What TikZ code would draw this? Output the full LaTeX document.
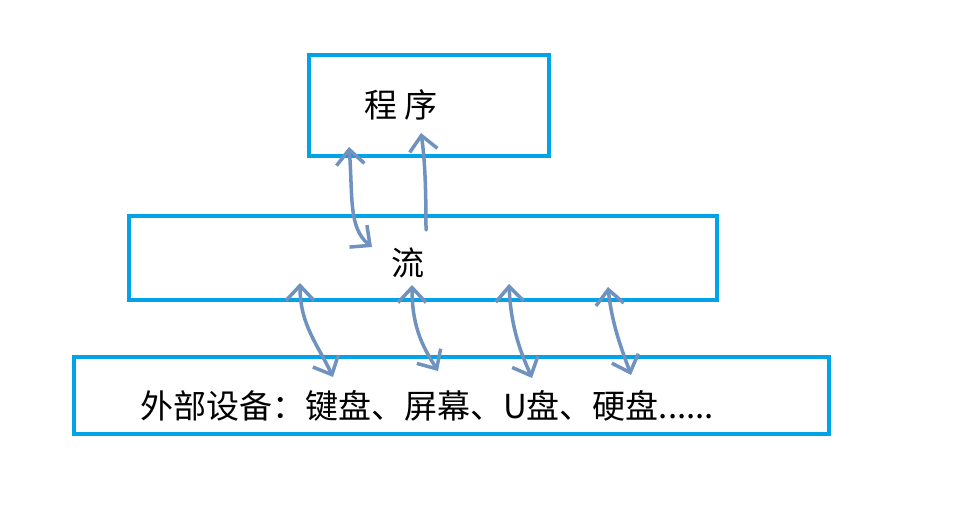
\documentclass[tikz,border=0pt]{standalone}
\usepackage{fontspec}
\setmainfont{Noto Sans CJK SC}
\usetikzlibrary{arrows.meta}
\definecolor{boxblue}{HTML}{00A2E8}
\definecolor{arrblue}{HTML}{7092BE}
\begin{document}
\begin{tikzpicture}[x=1pt,y=-1pt,
  box/.style={draw=boxblue,line width=4pt,inner sep=0pt},
  lbl/.style={inner sep=0pt,font=\fontsize{33}{40}\selectfont},
  hand/.style={draw=arrblue,line width=3.5pt,line cap=round,line join=round},
  handtip/.tip={Straight Barb[length=15pt,width=28pt,line width=3.5pt]}]
\useasboundingbox[fill=white] (0,0) rectangle (975,521);
\node[box,minimum width=240pt,minimum height=101pt] (prog) at (429,105.5) {};
\node[box,minimum width=588pt,minimum height=84pt] (flow) at (423,258) {};
\node[box,minimum width=755pt,minimum height=77pt] (dev) at (451.5,395.5) {};
\node[lbl] (progt) at (401,105) {程\hspace{8pt}序};
\node[lbl] (flowt) at (408,263) {流};
\node[lbl,anchor=west] (devt) at (140,406) {外部设备：键盘、屏幕、U盘、硬盘......};
% arrows between program and stream
\coordinate (a1s) at (349,147);
\coordinate (a1e) at (372,247);
\coordinate (a2s) at (426,230);
\coordinate (a2e) at (421,133);
\draw[hand,{handtip}-{handtip}] (a1s) .. controls (353,195) and (348,228) .. (a1e);
\draw[hand,-{handtip}] (a2s) .. controls (426,190) and (425,160) .. (a2e);
% arrows between stream and devices
\coordinate (b1s) at (300,283);
\coordinate (b1e) at (333,377);
\coordinate (b2s) at (412,285);
\coordinate (b2e) at (438,371);
\coordinate (b3s) at (509,284);
\coordinate (b3e) at (532,378);
\coordinate (b4s) at (608,287);
\coordinate (b4e) at (631,375);
\draw[hand,{handtip}-{handtip}] (b1s) .. controls (300,325) and (318,345) .. (b1e);
\draw[hand,{handtip}-{handtip}] (b2s) .. controls (412,330) and (425,350) .. (b2e);
\draw[hand,{handtip}-{handtip}] (b3s) .. controls (511,330) and (522,355) .. (b3e);
\draw[hand,{handtip}-{handtip}] (b4s) .. controls (612,325) and (622,350) .. (b4e);
\end{tikzpicture}
\end{document}
